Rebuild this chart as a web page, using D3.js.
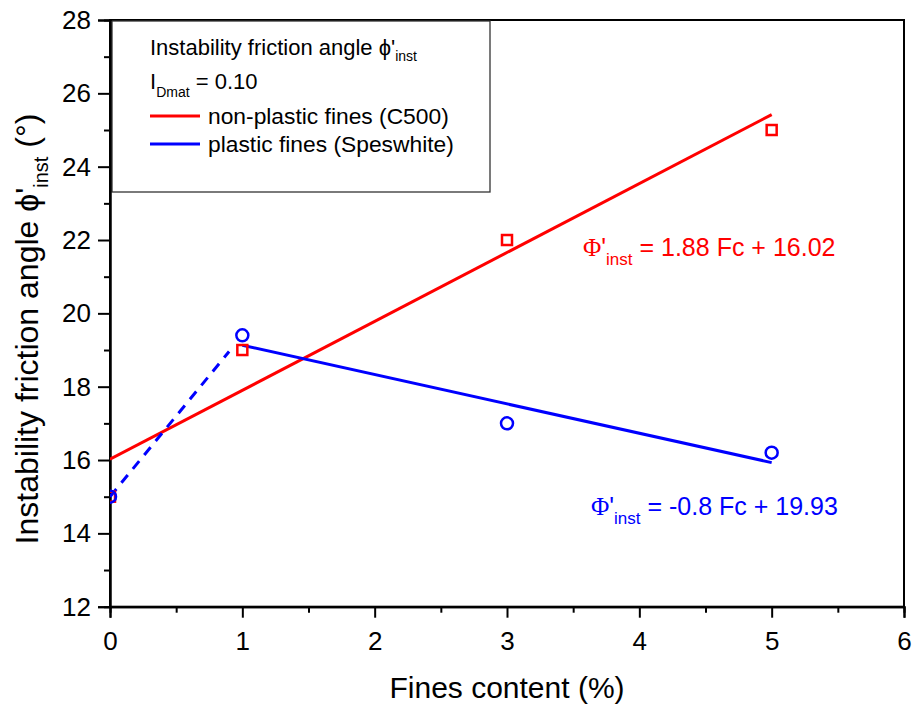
<!DOCTYPE html>
<html><head><meta charset="utf-8">
<script src="https://cdn.jsdelivr.net/npm/d3@7"></script>
<style>body{margin:0;background:#fff}text{font-family:"Liberation Sans",Arial,sans-serif}</style>
</head><body>
<svg id="c" width="913" height="707"></svg>
<script>
// Data
const xTicks = [0,1,2,3,4,5,6];
const yTicks = [12,14,16,18,20,22,24,26,28];
const nonPlasticFc = [0,1,3,5];
const nonPlasticPhi = [15,19,22,25];
const plasticFc = [0,1,3,5];
const plasticPhi = [15,19.4,17,16.2];
const redFitFc = [0,5];
const redFitPhi = [16.02,25.42];
const blueFitFc = [1,5];
const blueFitPhi = [19.13,15.93];
const blueDashFc = [0,0.9];
const blueDashPhi = [15,18.96];

const svg = d3.select("#c");
const L=110,R=904,T=20,B=606.7;
const x = d3.scaleLinear().domain([0,6]).range([L,R]);
const y = d3.scaleLinear().domain([12,28]).range([B,T]);
const RED="#ff0000", BLUE="#0000ff";

svg.append("clipPath").attr("id","clip").append("rect")
  .attr("x",L).attr("y",T).attr("width",R-L).attr("height",B-T);

// frame
svg.append("rect").attr("x",L).attr("y",T).attr("width",R-L).attr("height",B-T)
  .attr("fill","none").attr("stroke","#000").attr("stroke-width",2);

// legend box
svg.append("rect").attr("x",112).attr("y",21).attr("width",378).attr("height",171)
  .attr("fill","#fff").attr("stroke","#333").attr("stroke-width",1.3);

// axes
const xAxis = svg.append("g").attr("transform",`translate(0,${B})`)
  .call(d3.axisBottom(x).tickValues(xTicks).tickFormat(d3.format("d")).tickSize(11).tickPadding(14));
const xMinor = svg.append("g").attr("transform",`translate(0,${B})`)
  .call(d3.axisBottom(x).tickValues(d3.range(0.5,6,1)).tickFormat("").tickSize(6));
const yAxis = svg.append("g").attr("transform",`translate(${L},0)`)
  .call(d3.axisLeft(y).tickValues(yTicks).tickFormat(d3.format("d")).tickSize(12).tickPadding(7));
const yMinor = svg.append("g").attr("transform",`translate(${L},0)`)
  .call(d3.axisLeft(y).tickValues(d3.range(13,28,2)).tickFormat("").tickSize(6));
[xAxis,xMinor,yAxis,yMinor].forEach(g=>{
  g.select(".domain").attr("stroke-width",2);
  g.selectAll(".tick line").attr("stroke-width",2);
  g.selectAll("text").attr("font-size",26).attr("fill","#000")
   .style("font-family","'Liberation Sans',Arial,sans-serif");
});

const line = d3.line().x(d=>x(d[0])).y(d=>y(d[1]));
const plot = svg.append("g").attr("clip-path","url(#clip)");
plot.append("path").datum(d3.zip(redFitFc,redFitPhi)).attr("d",line)
  .attr("stroke",RED).attr("stroke-width",3).attr("fill","none");
plot.append("path").datum(d3.zip(blueFitFc,blueFitPhi)).attr("d",line)
  .attr("stroke",BLUE).attr("stroke-width",3).attr("fill","none");
plot.append("path").datum(d3.zip(blueDashFc,blueDashPhi)).attr("d",line)
  .attr("stroke",BLUE).attr("stroke-width",3).attr("fill","none").attr("stroke-dasharray","10,8");

const s=10;
plot.selectAll("rect.sq").data(d3.zip(nonPlasticFc,nonPlasticPhi)).join("rect")
  .attr("x",d=>x(d[0])-s/2).attr("y",d=>y(d[1])-s/2).attr("width",s).attr("height",s)
  .attr("fill","none").attr("stroke",RED).attr("stroke-width",2.5);
plot.selectAll("circle").data(d3.zip(plasticFc,plasticPhi)).join("circle")
  .attr("cx",d=>x(d[0])).attr("cy",d=>y(d[1])).attr("r",6)
  .attr("fill","none").attr("stroke",BLUE).attr("stroke-width",2.5);

// legend content
const lg = svg.append("g");
const t1 = lg.append("text").attr("x",150).attr("y",55).attr("font-size",22);
t1.append("tspan").text("Instability friction angle ϕ'");
t1.append("tspan").attr("font-size",14).attr("dy",6).text("inst");
const t2 = lg.append("text").attr("x",150).attr("y",89).attr("font-size",22);
t2.append("tspan").text("I");
t2.append("tspan").attr("font-size",14).attr("dy",8).text("Dmat");
t2.append("tspan").attr("dy",-8).text(" = 0.10");
lg.append("line").attr("x1",150).attr("x2",200).attr("y1",116).attr("y2",116).attr("stroke",RED).attr("stroke-width",3);
lg.append("text").attr("x",208).attr("y",124).attr("font-size",22.8).text("non-plastic fines (C500)");
lg.append("line").attr("x1",150).attr("x2",200).attr("y1",144).attr("y2",144).attr("stroke",BLUE).attr("stroke-width",3);
lg.append("text").attr("x",208).attr("y",152).attr("font-size",22.8).text("plastic fines (Speswhite)");

// equations
function eq(xp,yp,color,rest){
  const t = svg.append("text").attr("x",xp).attr("y",yp).attr("font-size",25).attr("fill",color);
  t.append("tspan").style("font-family","'Liberation Serif','Times New Roman',serif").text("Φ");
  t.append("tspan").text("'");
  t.append("tspan").attr("font-size",17).attr("dy",9).text("inst");
  t.append("tspan").attr("dy",-9).text(" "+rest);
}
eq(583,256,RED,"= 1.88 Fc + 16.02");
eq(591,515,BLUE,"= -0.8 Fc + 19.93");

// axis titles
svg.append("text").attr("x",507).attr("y",698).attr("text-anchor","middle").attr("font-size",30).text("Fines content (%)");
const yl = svg.append("text").attr("transform","translate(38,329) rotate(-90)").attr("text-anchor","middle").attr("font-size",32);
yl.append("tspan").text("Instability friction angle ϕ'");
yl.append("tspan").attr("font-size",20).attr("dy",10).text("inst");
yl.append("tspan").attr("dy",-10).text(" (°)");
</script>
</body></html>
